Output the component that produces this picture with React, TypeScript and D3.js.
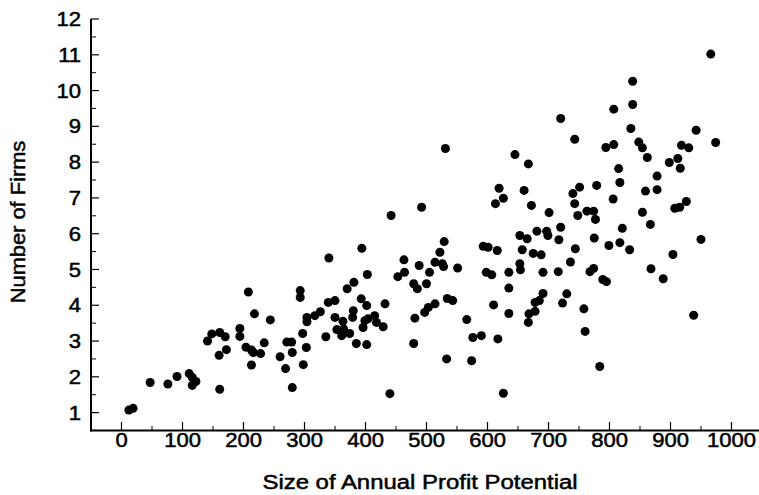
import React, { useEffect, useRef } from "react";
import * as d3 from "d3";

const profit: number[] = [
  12, 19, 47, 76, 91, 111, 116, 122, 116, 161,
  141, 148, 161, 170, 160, 172, 194, 194, 208, 218,
  204, 213, 216, 213, 228, 244, 234, 260, 269, 280,
  271, 279, 280, 297, 303, 298, 293, 293, 304, 304,
  317, 326, 340, 339, 350, 350, 335, 353, 363, 364,
  361, 374, 380, 379, 370, 381, 385, 394, 393, 402,
  403, 402, 399, 404, 396, 415, 418, 429, 432, 440,
  442, 453, 464, 463, 479, 485, 481, 479, 488, 492,
  500, 505, 497, 503, 514, 514, 522, 526, 528, 534,
  533, 531, 529, 543, 551, 566, 576, 590, 617, 574,
  626, 593, 601, 616, 598, 607, 610, 635, 635, 635,
  653, 654, 653, 665, 657, 675, 688, 681, 697, 699,
  691, 716, 717, 720, 736, 744, 691, 685, 678, 678,
  668, 667, 730, 723, 758, 760, 784, 619, 626, 613,
  660, 672, 701, 645, 667, 720, 743, 751, 740, 743,
  748, 763, 774, 777, 775, 799, 768, 774, 789, 795,
  779, 794, 806, 966, 838, 838, 807, 835, 942, 974,
  807, 848, 854, 862, 918, 930, 912, 898, 916, 815,
  817, 878, 859, 878, 926, 915, 907, 854, 867, 821,
  817, 833, 950, 904, 868, 888, 938,
];

const firms: number[] = [
  1.07, 1.12, 1.84, 1.80, 2.01, 2.09, 1.98, 1.87, 1.76, 1.65,
  3.0, 3.2, 3.24, 3.12, 2.6, 2.76, 3.35, 3.13, 4.37, 3.76,
  2.83, 2.75, 2.68, 2.33, 2.65, 3.59, 2.95, 2.56, 2.23, 1.70,
  2.97, 2.97, 2.68, 3.21, 2.82, 2.34, 4.41, 4.22, 3.66, 3.54,
  3.71, 3.82, 5.32, 4.08, 4.13, 3.66, 3.12, 3.32, 3.55, 3.34,
  3.15, 3.21, 3.85, 3.66, 4.46, 4.64, 2.93, 5.59, 4.18, 3.99,
  4.86, 2.90, 3.57, 3.62, 3.38, 3.71, 3.52, 3.40, 4.04, 1.53,
  6.51, 4.80, 4.92, 5.27, 4.60, 4.46, 3.64, 2.93, 5.11, 6.74,
  4.60, 4.92, 3.80, 3.94, 4.04, 5.20, 5.48, 5.16, 5.08, 4.19,
  2.50, 8.38, 5.78, 4.13, 5.04, 3.60, 3.10, 3.15, 3.06, 2.45,
  1.54, 5.65, 5.62, 5.53, 4.92, 4.85, 4.01, 4.48, 3.77, 4.92,
  5.16, 4.99, 5.95, 5.86, 5.55, 5.45, 5.41, 6.07, 6.07, 5.95,
  4.92, 4.94, 5.83, 6.18, 5.21, 5.58, 4.33, 4.13, 4.08, 3.83,
  3.76, 3.52, 4.32, 4.06, 3.90, 3.27, 2.29, 7.27, 6.99, 6.84,
  7.21, 6.79, 6.59, 8.21, 7.95, 9.22, 8.64, 7.30, 7.12, 6.84,
  6.51, 6.63, 6.63, 6.40, 5.88, 5.67, 4.94, 5.03, 4.72, 4.66,
  7.35, 8.41, 6.97, 11.02, 10.26, 9.61, 9.48, 8.94, 8.89, 8.55,
  8.49, 8.56, 8.40, 8.13, 8.47, 8.40, 8.10, 7.99, 7.83, 7.82,
  7.43, 7.61, 7.19, 7.23, 6.90, 6.74, 6.71, 6.60, 6.26, 6.15,
  5.75, 5.55, 5.84, 5.42, 5.02, 4.74, 3.72,
];

const xTicks: number[] = [0, 100, 200, 300, 400, 500, 600, 700, 800, 900, 1000];
const xMinorTicks: number[] = [50, 150, 250, 350, 450, 550, 650, 750, 850, 950];
const yTicks: number[] = [1, 2, 3, 4, 5, 6, 7, 8, 9, 10, 11, 12];
const yMinorTicks: number[] = [1.5, 2.5, 3.5, 4.5, 5.5, 6.5, 7.5, 8.5, 9.5, 10.5, 11.5];

const xTitle = "Size of Annual Profit Potential";
const yTitle = "Number of Firms";

export default function App() {
  const ref = useRef<SVGSVGElement>(null);
  useEffect(() => {
    const svg = d3.select(ref.current);
    svg.selectAll("*").remove();
    const x = d3.scaleLinear().domain([-50, 1050]).range([91, 762]);
    const y = d3.scaleLinear().domain([0.5, 12]).range([430.5, 19]);
    const font = "'Liberation Sans', Arial, Helvetica, sans-serif";
    const sx = 1.13;
    const g = svg.append("g");

    g.append("line").attr("x1", 91).attr("x2", 91).attr("y1", y(12)).attr("y2", 431.5)
      .attr("stroke", "#000").attr("stroke-width", 2);
    g.append("line").attr("x1", 90).attr("x2", 759).attr("y1", 430.5).attr("y2", 430.5)
      .attr("stroke", "#000").attr("stroke-width", 2);

    g.selectAll(".yt").data(yTicks).enter().append("line")
      .attr("x1", 91).attr("x2", 99).attr("y1", (d) => y(d)).attr("y2", (d) => y(d))
      .attr("stroke", "#000").attr("stroke-width", 1.2);
    g.selectAll(".ymt").data(yMinorTicks).enter().append("line")
      .attr("x1", 91).attr("x2", 96).attr("y1", (d) => y(d)).attr("y2", (d) => y(d))
      .attr("stroke", "#000").attr("stroke-width", 1);
    g.selectAll(".yl").data(yTicks).enter().append("text")
      .attr("transform", (d) => `translate(81,${y(d)}) scale(${sx},1)`).attr("dy", "0.36em")
      .attr("text-anchor", "end").attr("font-family", font).attr("font-size", 19.5)
      .attr("fill", "#000").attr("stroke", "#000").attr("stroke-width", 0.5)
      .text((d) => String(d));

    g.selectAll(".xt").data(xTicks).enter().append("line")
      .attr("x1", (d) => x(d)).attr("x2", (d) => x(d)).attr("y1", 430.5).attr("y2", 422)
      .attr("stroke", "#000").attr("stroke-width", 1.2);
    g.selectAll(".xmt").data(xMinorTicks).enter().append("line")
      .attr("x1", (d) => x(d)).attr("x2", (d) => x(d)).attr("y1", 430.5).attr("y2", 426)
      .attr("stroke", "#000").attr("stroke-width", 1);
    g.selectAll(".xl").data(xTicks).enter().append("text")
      .attr("transform", (d) => `translate(${x(d)},447) scale(${sx},1)`)
      .attr("text-anchor", "middle").attr("font-family", font).attr("font-size", 19.5)
      .attr("fill", "#000").attr("stroke", "#000").attr("stroke-width", 0.5)
      .text((d) => String(d));

    g.append("text").attr("transform", `translate(420,489) scale(1.14,1)`).attr("text-anchor", "middle")
      .attr("font-family", font).attr("font-size", 21).attr("fill", "#000")
      .attr("stroke", "#000").attr("stroke-width", 0.5).text(xTitle);
    g.append("text").attr("transform", "translate(25,222) rotate(-90) scale(1.04,1)")
      .attr("text-anchor", "middle").attr("font-family", font).attr("font-size", 21)
      .attr("fill", "#000").attr("stroke", "#000").attr("stroke-width", 0.5).text(yTitle);

    const pts = profit.map((p, i) => ({ p, f: firms[i] }));
    g.selectAll(".pt").data(pts).enter().append("circle")
      .attr("cx", (d) => x(d.p)).attr("cy", (d) => y(d.f)).attr("r", 4.5)
      .attr("fill", "#000");
  }, []);
  return (
    <svg ref={ref} width={759} height={495}
      style={{ position: "absolute", left: 0, top: 0, background: "#fff" }} />
  );
}
